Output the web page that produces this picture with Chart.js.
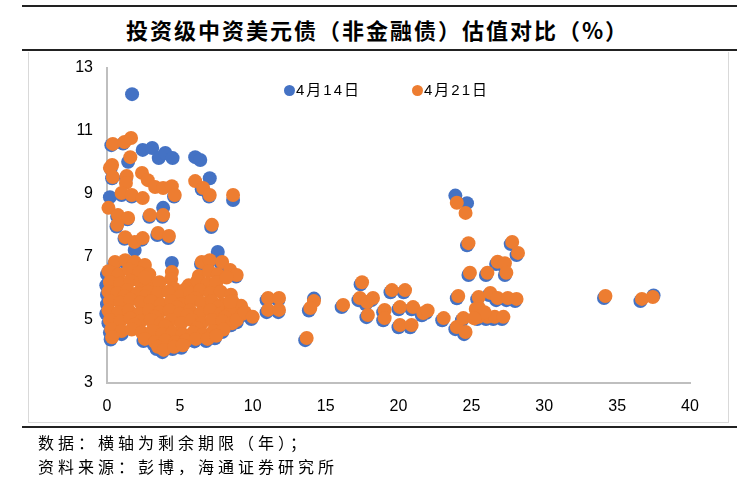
<!DOCTYPE html>
<html>
<head>
<meta charset="utf-8">
<script src="https://cdn.jsdelivr.net/npm/chart.js@4"></script>
<style>
  body { margin: 0; background: #fff; width: 737px; height: 484px; position: relative; overflow: hidden; }
  .rule { position: absolute; left: 22px; width: 715px; height: 2px; background: #222; }
  #title { position: absolute; left: 18px; width: 719px; top: 13px; text-align: center;
           font: bold 22px "Noto Sans CJK SC", sans-serif; letter-spacing: 2px; color: #000; line-height: 32px; }
  #box { position: absolute; left: 28px; top: 52px; width: 699px; height: 370px; border: 1px solid #d9d9d9; border-top: none; }
  #chart { position: absolute; left: 0; top: 0; }
  .leg { position: absolute; top: 80px; font: 15px "Liberation Sans", "Noto Sans CJK SC", sans-serif; letter-spacing: 2px; color: #000; line-height: 20px; }
  .leg i { display: inline-block; width: 11px; height: 11px; border-radius: 50%; margin-right: 1px; vertical-align: -1px; }
  .note { position: absolute; left: 38px; font: 16px "Noto Sans CJK SC", sans-serif; letter-spacing: 4px; color: #000; line-height: 22px; }
</style>
</head>
<body>
<div class="rule" style="top:5px"></div>
<div id="title">投资级中资美元债（非金融债）估值对比（%）</div>
<div class="rule" style="top:49px"></div>
<div id="box"></div>
<canvas id="chart" width="737" height="484"></canvas>
<div class="leg" style="left:284px"><i style="background:#4472C4"></i>4月14日</div>
<div class="leg" style="left:412px"><i style="background:#ED7D31"></i>4月21日</div>
<div class="rule" style="top:426px"></div>
<div class="note" style="top:431px">数据：横轴为剩余期限（年）；</div>
<div class="note" style="top:455px">资料来源：彭博，海通证券研究所</div>
<script>
var seriesNames = ["4月14日", "4月21日"];
var xTicks = [0, 5, 10, 15, 20, 25, 30, 35, 40];
var yTicks = [3, 5, 7, 9, 11, 13];

// [剩余期限, 收益率] 4月14日
var apr14 = [
  [1.72,12.17],[0.3,10.55],[1.1,10.6],[2.45,10.4],[3.1,10.46],[3.55,10.14],[4.0,10.3],[4.5,10.14],
  [6.05,10.17],[6.4,10.08],[1.45,10.02],[0.25,9.8],[0.35,9.5],[1.3,9.5],[7.05,9.5],[6.5,9.15],
  [7.0,8.92],[8.65,8.81],[0.2,8.9],[1.0,8.97],[1.7,8.92],[4.6,8.92],[3.85,8.56],[0.7,8.28],
  [1.4,8.2],[2.9,8.28],[3.8,8.28],[0.65,7.97],[7.15,7.95],[1.2,7.58],[1.9,7.22],[2.4,7.55],
  [3.45,7.7],[4.2,7.6],[4.45,6.81],[7.6,7.16],[0.5,6.78],[1.2,6.85],[2.55,6.7],[6.45,6.78],
  [7.0,6.85],[7.85,6.78],[8.4,6.53],[8.85,6.38],
  [0.0,6.45],[-0.05,6.1],[0.0,5.8],[0.0,5.5],[-0.05,5.2],[0.1,4.9],[0.2,4.6],[0.25,4.38],
  [1.0,4.55],[2.5,4.33],[3.2,4.22],[3.4,4.08],[3.8,3.98],[4.5,4.08],[5.1,4.12],[5.3,4.28],
  [6.0,4.32],[6.8,4.33],[7.4,4.42],[7.9,4.62],[8.5,4.83],[9.2,5.13],[9.1,5.38],[8.9,4.93],[8.4,5.5],
  [9.35,5.18],[9.9,5.03],[10.95,5.63],[11.75,5.63],[10.95,5.25],[11.75,5.25],[14.2,5.68],[13.85,5.3],
  [13.6,4.36],[16.1,5.41],[17.4,6.13],[17.25,5.63],[17.75,5.5],[18.15,5.63],[17.8,5.09],[18.95,5.25],
  [18.95,4.99],[19.45,5.88],[20.35,5.88],[20.0,5.34],[20.9,5.34],[20.0,4.77],[20.8,4.77],[21.6,5.15],
  [21.9,5.23],[23.0,4.99],[23.9,4.71],[24.5,4.55],[24.35,4.99],[24.0,5.69],[23.9,8.95],[24.7,8.71],
  [24.7,7.37],[24.8,6.43],[26.0,6.43],[26.7,6.78],[27.2,6.73],[27.3,6.43],[27.7,7.41],[28.1,7.06],
  [25.4,5.66],[26.2,5.79],[26.7,5.63],[27.4,5.63],[28.0,5.6],[25.4,5.33],[25.4,5.03],[26.0,5.03],
  [26.5,5.03],[27.1,5.03],[34.1,5.7],[36.6,5.6],[37.5,5.78]
];

// [剩余期限, 收益率] 4月21日
var apr21 = [
  [0.4,10.59],[1.2,10.65],[1.65,10.78],[1.6,10.17],[0.35,9.92],[0.2,9.83],[0.4,9.54],[1.35,9.57],
  [1.3,9.35],[2.4,9.67],[2.8,9.44],[3.3,9.22],[3.85,9.19],[4.45,9.25],[4.65,8.97],[6.05,9.41],
  [6.6,9.19],[7.05,8.97],[8.65,8.97],[1.0,9.03],[1.7,8.97],[2.45,8.87],[0.1,8.56],[0.75,8.33],
  [1.45,8.24],[2.95,8.33],[3.85,8.33],[0.7,8.02],[1.25,7.63],[1.9,7.48],[2.45,7.6],[3.5,7.76],
  [4.25,7.67],[7.2,8.02],[0.55,6.84],[1.25,6.9],[1.9,6.84],[2.6,6.75],[4.45,6.52],[6.5,6.84],
  [7.05,6.9],[7.9,6.84],[8.45,6.59],[8.9,6.43],
  [0.1,6.55],[0.8,6.45],[1.5,6.6],[2.2,6.5],[2.9,6.45],[4.4,6.3],[6.3,6.4],[7.0,6.55],[7.6,6.45],
  [0.2,6.2],[0.9,6.15],[1.6,6.25],[2.3,6.2],[3.0,6.1],[3.6,6.2],[4.6,6.0],[5.6,6.1],[6.2,6.25],
  [6.9,6.15],[7.5,6.2],[8.2,6.35],[2.6,6.35],[5.3,5.95],
  [0.1,5.9],[0.7,5.85],[1.4,5.95],[2.1,5.85],[2.8,5.9],[3.5,5.85],[4.2,5.9],[5.0,5.75],[5.7,5.85],
  [6.4,5.95],[7.1,5.85],[7.8,5.9],[8.5,5.8],[1.2,5.75],[2.6,5.75],[6.1,5.7],
  [0.2,5.6],[0.9,5.55],[1.6,5.65],[2.3,5.55],[3.0,5.6],[3.7,5.5],[4.4,5.6],[5.1,5.5],[5.8,5.6],
  [6.5,5.55],[7.2,5.6],[7.9,5.5],[8.6,5.6],[9.2,5.45],[4.8,5.4],[7.6,5.4],
  [0.1,5.3],[0.8,5.25],[1.5,5.3],[2.2,5.2],[2.9,5.3],[3.6,5.25],[4.3,5.3],[5.0,5.2],[5.7,5.3],
  [6.4,5.2],[7.1,5.3],[7.8,5.2],[8.5,5.25],[9.3,5.2],[5.5,5.15],[3.3,5.1],[8.1,5.1],
  [0.2,5.0],[0.9,4.95],[1.6,5.05],[2.3,4.95],[3.0,5.0],[3.7,4.9],[4.4,5.0],[5.1,4.9],[5.8,5.0],
  [6.5,4.9],[7.2,5.0],[7.9,4.95],[8.6,4.9],[1.9,4.85],[4.0,4.8],[6.2,4.75],
  [0.3,4.7],[1.0,4.65],[1.7,4.7],[2.4,4.6],[3.1,4.65],[3.8,4.55],[4.5,4.6],[5.2,4.55],[5.9,4.6],
  [6.6,4.55],[7.3,4.65],[8.0,4.7],
  [0.35,4.45],[2.6,4.4],[3.3,4.3],[4.0,4.35],[4.7,4.3],[5.4,4.35],[6.1,4.4],[6.9,4.4],[7.5,4.5],
  [3.5,4.15],[3.9,4.05],[4.6,4.15],[5.2,4.2],
  [8.45,5.57],[8.9,5.0],[9.45,5.25],[10.0,5.1],[11.05,5.7],[11.8,5.7],[11.05,5.32],[11.8,5.32],
  [14.2,5.6],[13.95,5.38],[13.7,4.43],[16.2,5.48],[17.5,6.2],[17.35,5.7],[17.85,5.57],[18.25,5.7],
  [17.9,5.16],[19.05,5.32],[19.05,5.06],[19.55,5.95],[20.45,5.95],[20.1,5.41],[21.0,5.41],
  [20.1,4.84],[20.9,4.84],[21.7,5.22],[22.0,5.3],[23.1,5.06],[24.0,4.78],[24.6,4.62],[24.45,5.06],
  [24.1,5.76],[24.0,8.72],[24.6,8.4],[24.8,7.44],[24.9,6.5],[26.1,6.5],[26.8,6.85],[27.3,6.8],
  [27.4,6.5],[27.8,7.48],[28.2,7.13],[25.5,5.73],[26.3,5.86],[26.8,5.7],[27.5,5.7],[28.1,5.67],
  [25.5,5.4],[25.5,5.1],[26.1,5.1],[26.6,5.1],[27.2,5.1],[25.3,5.35],[25.9,5.25],[25.2,5.05],
  [34.2,5.76],[36.7,5.67],[37.45,5.73]
];

function toPoints(arr) {
    return arr.map(function (p) { return { x: p[0], y: p[1] }; });
}

var tickFont = { family: "'Liberation Sans', Arial, sans-serif", size: 16 };

var ctx = document.getElementById("chart").getContext("2d");
new Chart(ctx, {
    type: 'scatter',
    data: {
        datasets: [{
            label: seriesNames[0],
            data: toPoints(apr14),
            backgroundColor: "#4472C4",
            borderWidth: 0,
            pointRadius: 7,
            order: 2,
            clip: false
        }, {
            label: seriesNames[1],
            data: toPoints(apr21),
            backgroundColor: "#ED7D31",
            borderWidth: 0,
            pointRadius: 7,
            order: 1,
            clip: false
        }]
    },
    options: {
        responsive: false,
        animation: false,
        layout: { padding: { left: 60, right: 47, top: 68, bottom: 61 } },
        plugins: { legend: { display: false }, tooltip: { enabled: false } },
        scales: {
            x: {
                type: 'linear', min: 0, max: 40,
                afterBuildTicks: function (s) { s.ticks = xTicks.map(function (v) { return { value: v }; }); },
                afterFit: function (s) { s.height = 40; },
                grid: { display: false, drawTicks: false },
                border: { color: "#bfbfbf", width: 2 },
                ticks: { color: "#000", font: tickFont, padding: 14, maxRotation: 0 }
            },
            y: {
                type: 'linear', min: 3, max: 13,
                afterBuildTicks: function (s) { s.ticks = yTicks.map(function (v) { return { value: v }; }); },
                afterFit: function (s) { s.width = 47; },
                grid: { display: false, drawTicks: false },
                border: { color: "#bfbfbf", width: 2 },
                ticks: { color: "#000", font: tickFont, padding: 14 }
            }
        }
    }
});
</script>
</body>
</html>
